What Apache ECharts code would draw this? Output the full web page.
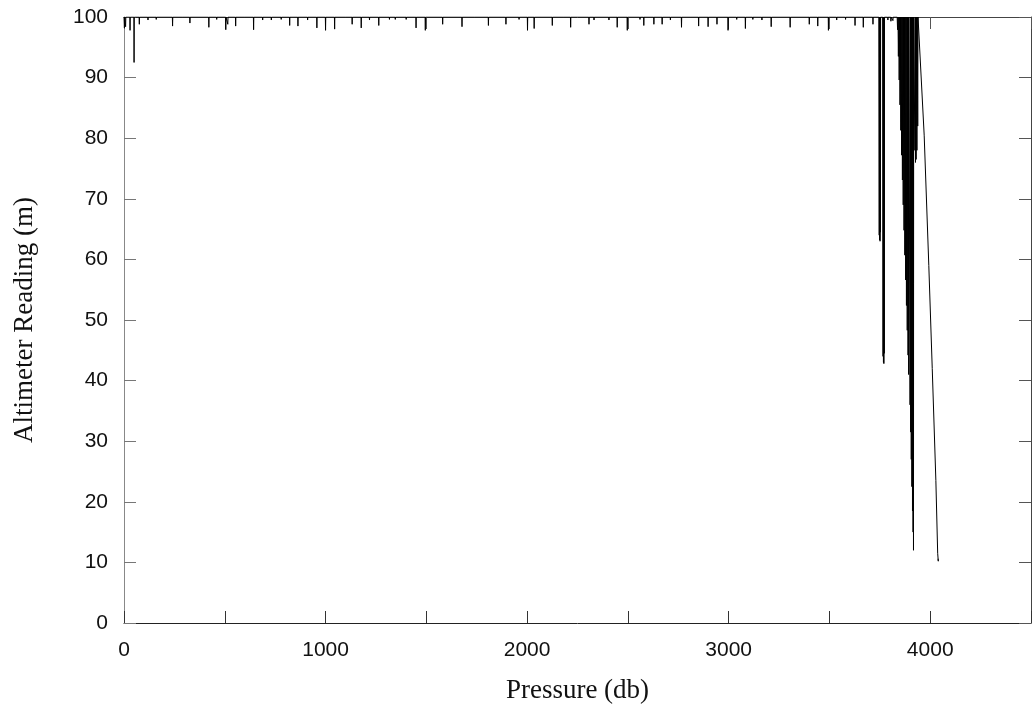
<!DOCTYPE html>
<html>
<head>
<meta charset="utf-8">
<script src="https://cdn.jsdelivr.net/npm/echarts@6/dist/echarts.min.js"></script>
<style>
html,body{margin:0;padding:0;background:#fff;}
#chart{width:1034px;height:716px;}
</style>
</head>
<body>
<div id="chart"></div>
<script>
// Altimeter reading (m) versus pressure (db): [pressure, altimeter]
const upperProfile = [
  [0,100],[2,98.2],[4,100],[7,100],[8,98.4],[9,100],[29,100],[30,97.8],[31,100],
  [49,100],[50,92.5],[51,100],[75,100],[76,98.8],[77,100],[118,100],[119,99.5],[120,100],
  [159,100],[160,99.6],[161,100],[240,100],[241,98.5],[242,100],[289,100],[290,99.7],[291,100],
  [326,100],[327,99.0],[328,100],[420,100],[421,98.3],[422,100],[459,100],[460,99.6],[461,100],
  [504,100],[505,97.9],[506,100],[514,100],[515,98.8],[516,100],[553,100],[554,98.5],[555,100],
  [599,100],[600,99.7],[601,100],[642,100],[643,97.9],[644,100],[687,100],[688,99.5],[689,100],
  [730,100],[731,99.5],[732,100],[779,100],[780,99.6],[781,100],[821,100],[822,98.6],[823,100],
  [862,100],[863,98.5],[864,100],[910,100],[911,99.5],[912,100],[956,100],[957,98.2],[958,100],
  [999,100],[1000,97.8],[1001,100],[1044,100],[1045,98.0],[1046,100],[1099,100],[1100,99.7],[1101,100],
  [1131,100],[1132,98.8],[1133,100],[1176,100],[1177,98.2],[1178,100],[1217,100],[1218,99.5],[1219,100],
  [1263,100],[1264,98.6],[1265,100],[1316,100],[1317,99.6],[1318,100],[1345,100],[1346,99.6],[1347,100],
  [1399,100],[1400,99.6],[1401,100],[1448,100],[1449,98.2],[1450,100],[1494,100],[1495,97.8],[1496,100],
  [1580,100],[1581,98.8],[1582,100],[1676,100],[1677,98.4],[1678,100],[1739,100],[1740,99.7],[1741,100],
  [1807,100],[1808,98.6],[1809,100],[1894,100],[1895,98.8],[1896,100],[1959,100],[1960,99.6],[1961,100],
  [2001,100],[2002,97.8],[2003,100],[2034,100],[2035,98.1],[2036,100],[2124,100],[2125,98.6],[2126,100],
  [2179,100],[2180,99.7],[2181,100],[2215,100],[2216,98.3],[2217,100],[2306,100],[2307,98.8],[2308,100],
  [2331,100],[2332,99.5],[2333,100],[2405,100],[2406,99.5],[2407,100],[2446,100],[2447,98.3],[2448,100],
  [2496,100],[2497,97.8],[2498,100],[2559,100],[2560,99.6],[2561,100],[2578,100],[2579,98.6],[2580,100],
  [2628,100],[2629,98.8],[2630,100],[2669,100],[2670,98.8],[2671,100],[2710,100],[2711,99.5],[2712,100],
  [2765,100],[2766,98.3],[2767,100],[2809,100],[2810,99.7],[2811,100],[2850,100],[2851,98.5],[2852,100],
  [2897,100],[2898,98.4],[2899,100],[2941,100],[2942,98.8],[2943,100],[2996,100],[2997,97.8],[2998,100],
  [3039,100],[3040,99.6],[3041,100],[3082,100],[3083,98.1],[3084,100],[3119,100],[3120,99.6],[3121,100],
  [3164,100],[3165,99.5],[3166,100],[3210,100],[3211,98.4],[3212,100],[3259,100],[3260,99.7],[3261,100],
  [3304,100],[3305,98.3],[3306,100],[3399,100],[3400,98.8],[3401,100],[3441,100],[3442,98.5],[3443,100],
  [3494,100],[3495,97.8],[3496,100],[3535,100],[3536,99.5],[3537,100],[3579,100],[3580,99.6],[3581,100],
  [3626,100],[3627,98.6],[3628,100],[3667,100],[3668,98.3],[3669,100],[3715,100],[3716,98.8],[3717,100]
];
const nearBottom = [
  [3745,100],[3747,64],[3748,100],[3749,63.2],[3750,100],[3751,63],[3752,100],[3753,64.5],[3754,100],
  [3764,100],[3766,44],[3767,100],[3768,43],[3769,100],[3770,42.8],[3771,100],[3772,44.5],[3773,100],
  [3789,100],[3790,99.5],[3791,100],[3804,100],[3805,99.3],[3806,100],[3814,100],[3815,99.4],[3816,100],
  [3836,100],[3838,97.9],[3840,100],[3842,93.5],[3844,100],[3846,89.6],[3848,100],[3850,85.5],
  [3852,100],[3854,81.3],[3856,100],[3858,77.2],[3860,100],[3862,73.1],[3864,100],[3866,69.0],
  [3868,100],[3870,64.8],[3872,100],[3874,60.7],[3876,100],[3878,56.6],[3880,100],[3882,52.4],
  [3884,100],[3886,48.3],[3888,100],[3890,44.2],[3891.5,100],[3893,41.0],[3894,100],
  [3899,100],[3900,36],[3901.5,100],[3903,31.5],[3904.5,100],[3906,27],[3907.5,100],[3909,22.5],
  [3910.5,100],[3912,18.5],[3913.5,100],[3915,15],[3916,100],[3917,12],[3918,100],
  [3924,78],[3925.5,100],[3927,76],[3928.5,100],[3930,76.5],[3931.5,100],[3934,78],[3935.5,100],
  [3938,82],[3939.5,100],[3948,100],
  [3970,80.5],[3993,59],[4010,42],[4028,23.5],[4037,11.5],[4040,10.2],[4039,10.6]
];
const xTickLabels = ['0','1000','2000','3000','4000'];
const yTickLabels = ['0','10','20','30','40','50','60','70','80','90','100'];

const chart = echarts.init(document.getElementById('chart'), null, {renderer:'canvas'});
const labelFont = {fontFamily:'"Liberation Sans", Arial, sans-serif', fontSize:21, color:'#111'};
const titleFont = {fontFamily:'"Liberation Serif", "Times New Roman", serif', fontSize:27, color:'#111'};

chart.setOption({
  animation:false,
  backgroundColor:'#fff',
  grid:{left:124, right:3, top:17, bottom:93, containLabel:false},
  xAxis:[{
    type:'value', min:0, max:4500, interval:500, position:'bottom',
    name:'Pressure (db)', nameLocation:'middle', nameGap:54, nameTextStyle:titleFont,
    axisLine:{show:true, onZero:false, lineStyle:{color:'#222', width:1}},
    axisTick:{show:true, inside:true, length:12, lineStyle:{color:'#333'}},
    axisLabel:Object.assign({margin:17, formatter:v=>xTickLabels.includes(String(v))?String(v):''}, labelFont),
    splitLine:{show:false}
  },{
    type:'value', min:0, max:4500, interval:500, position:'top',
    axisLine:{show:true, onZero:false, lineStyle:{color:'#444', width:1}},
    axisTick:{show:true, inside:true, length:12, lineStyle:{color:'#555'}},
    axisLabel:{show:false}, splitLine:{show:false}
  }],
  yAxis:[{
    type:'value', min:0, max:100, interval:10, position:'left',
    name:'Altimeter Reading (m)', nameLocation:'middle', nameGap:86, nameRotate:90, nameTextStyle:titleFont,
    axisLine:{show:true, onZero:false, lineStyle:{color:'#888', width:1}},
    axisTick:{show:true, inside:true, length:12, lineStyle:{color:'#777'}},
    axisLabel:Object.assign({margin:16, formatter:v=>yTickLabels.includes(String(v))?String(v):''}, labelFont),
    splitLine:{show:false}
  },{
    type:'value', min:0, max:100, interval:10, position:'right',
    axisLine:{show:true, onZero:false, lineStyle:{color:'#444', width:1}},
    axisTick:{show:true, inside:true, length:12, lineStyle:{color:'#555'}},
    axisLabel:{show:false}, splitLine:{show:false}
  }],
  series:[{
    type:'line', xAxisIndex:0, yAxisIndex:0,
    data: upperProfile.concat(nearBottom),
    showSymbol:false, symbol:'none', clip:true,
    lineStyle:{color:'#000', width:1},
    emphasis:{disabled:true}
  }]
});
</script>
</body>
</html>
